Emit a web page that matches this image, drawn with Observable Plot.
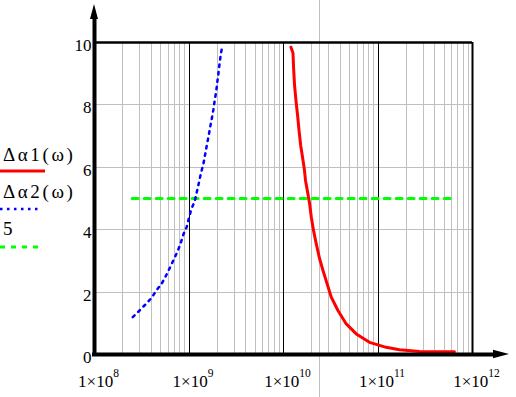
<!DOCTYPE html>
<html><head><meta charset="utf-8">
<script src="https://cdn.jsdelivr.net/npm/d3@7"></script>
<script src="https://cdn.jsdelivr.net/npm/@observablehq/plot@0.6"></script>
<style>
html,body{margin:0;padding:0;background:#fff;}
#wrap{position:relative;width:516px;height:397px;overflow:hidden;}
#wrap svg{position:absolute;left:0;top:0;}
</style></head><body><div id="wrap"></div>
<script>
// Δα2(ω) — blue dotted
const blueX = [2.54e8, 2.87e8, 3.19e8, 3.57e8, 4.07e8, 4.56e8, 5.14e8, 5.63e8, 6.05e8, 6.51e8, 6.96e8, 7.60e8, 8.17e8, 8.73e8, 9.46e8, 1.00e9, 1.06e9, 1.15e9, 1.22e9, 1.28e9, 1.34e9, 1.42e9, 1.48e9, 1.54e9, 1.61e9, 1.67e9, 1.74e9, 1.81e9, 1.87e9, 1.94e9, 1.99e9, 2.05e9, 2.10e9, 2.16e9, 2.24e9];
const blueY = [1.20, 1.35, 1.50, 1.64, 1.84, 2.07, 2.27, 2.49, 2.68, 2.88, 3.07, 3.32, 3.57, 3.85, 4.09, 4.38, 4.67, 4.91, 5.26, 5.54, 5.82, 6.11, 6.40, 6.69, 6.99, 7.27, 7.55, 7.84, 8.14, 8.43, 8.72, 9.01, 9.29, 9.58, 9.86];
// Δα1(ω) — red solid
const redX = [1.20e10, 1.26e10, 1.28e10, 1.31e10, 1.36e10, 1.41e10, 1.46e10, 1.52e10, 1.59e10, 1.66e10, 1.71e10, 1.80e10, 1.89e10, 1.97e10, 2.08e10, 2.22e10, 2.41e10, 2.62e10, 2.89e10, 3.20e10, 3.77e10, 4.61e10, 5.89e10, 8.13e10, 1.22e11, 1.69e11, 2.75e11, 6.44e11];
const redY = [9.85, 9.66, 9.16, 8.62, 8.09, 7.66, 7.18, 6.70, 6.32, 5.95, 5.58, 5.20, 4.83, 4.40, 3.97, 3.55, 3.07, 2.69, 2.27, 1.84, 1.41, 0.98, 0.66, 0.39, 0.23, 0.15, 0.10, 0.09];
// constant 5 — green dashed
const refX = [2.5e8, 6.4e11];
const refLevel = 5;
// axes / grid
const xTickExponents = [8, 9, 10, 11, 12];
const yTicks = [0, 2, 4, 6, 8, 10];
const yGrid = [2, 4, 6, 8];
const decades = [1e8, 1e9, 1e10, 1e11];
const majorDecades = [1e9, 1e10, 1e11];
const minorMultipliers = [2, 3, 4, 5, 6, 7, 8, 9];
const cursorX = 2.41e10;
const legendLabels = ["Δα1(ω)", "Δα2(ω)", "5"];

const minor = decades.flatMap(d => minorMultipliers.map(m => m * d));
const toRows = (xs, ys) => xs.map((x, i) => ({x, y: ys[i]}));
const FONT = "Liberation Serif";
const grid = {stroke: "#c0c0c0", strokeWidth: 1, shapeRendering: "crispEdges"};

const chart = Plot.plot({
  width: 516, height: 397,
  marginLeft: 94, marginRight: 44, marginTop: 42, marginBottom: 43,
  style: {fontFamily: FONT, fontSize: "17px", color: "#000", background: "transparent", overflow: "visible"},
  x: {type: "log", domain: [1e8, 1e12], axis: null},
  y: {domain: [0, 10], axis: null},
  marks: [
    Plot.ruleX(minor, grid),
    Plot.ruleY(yGrid, grid),
    Plot.ruleX([cursorX], {...grid, insetTop: -42, insetBottom: -43}),
    Plot.ruleX(majorDecades, {stroke: "#000", strokeWidth: 1, shapeRendering: "crispEdges"}),
    Plot.line(toRows(refX, refX.map(() => refLevel)), {x: "x", y: "y", stroke: "#00ff00", strokeWidth: 3, strokeDasharray: "6,6"}),
    Plot.line(toRows(blueX, blueY), {x: "x", y: "y", stroke: "#0000ff", strokeWidth: 2.5, strokeDasharray: "2.5,5"}),
    Plot.line(toRows(redX, redY), {x: "x", y: "y", stroke: "#ff0000", strokeWidth: 3}),
    Plot.ruleY([10], {stroke: "#000", strokeWidth: 2.5}),
    Plot.ruleX([1e12], {stroke: "#000", strokeWidth: 2}),
    Plot.ruleY([0], {stroke: "#000", strokeWidth: 4, insetRight: -22, insetLeft: -2}),
    Plot.ruleX([1e8], {stroke: "#000", strokeWidth: 4, insetTop: -24}),
    Plot.text(yTicks, {x: 1e8, y: d => d, text: d => String(d), textAnchor: "end", dx: -3, dy: 3, fontSize: 17, fill: "#000", fontFamily: FONT})
  ]
});

const svg = d3.select(chart);
const sx = chart.scale("x"), sy = chart.scale("y");
const x0 = sx.apply(1e8), x1 = sx.apply(1e12), y0 = sy.apply(0), y1 = sy.apply(10);
const g = svg.append("g").attr("font-family", FONT).attr("fill", "#000");
xTickExponents.forEach(e => {
  const t = g.append("text")
    .attr("x", sx.apply(Math.pow(10, e)) + 4.5)
    .attr("y", y0 + 32.5)
    .attr("text-anchor", "middle")
    .attr("font-size", 17);
  t.append("tspan").text("1×10");
  t.append("tspan").attr("dy", -9.5).attr("font-size", 11.5).text(String(e));
});
// arrowheads
g.append("path").attr("fill", "#000")
  .attr("d", `M${x0},${y1 - 38}L${x0 - 4},${y1 - 23}L${x0 + 4},${y1 - 23}Z`);
g.append("path").attr("fill", "#000")
  .attr("d", `M${x1 + 37},${y0}L${x1 + 21},${y0 - 4.2}L${x1 + 21},${y0 + 4.2}Z`);

document.getElementById("wrap").appendChild(chart);

// legend (left margin)
const leg = d3.select("#wrap").append("svg")
  .attr("width", 90).attr("height", 397)
  .style("pointer-events", "none");
const legendStyles = [
  {stroke: "#ff0000", width: 3, dash: null, len: 45, ty: 161, ly: 171},
  {stroke: "#0000ff", width: 2.5, dash: "2.5,4.5", len: 38, ty: 198, ly: 209},
  {stroke: "#00ff00", width: 3, dash: "5,6", len: 40, ty: 235, ly: 247}
];
legendLabels.forEach((lab, i) => {
  const s = legendStyles[i];
  leg.append("text").attr("x", 3).attr("y", s.ty)
    .attr("font-family", FONT).attr("font-size", 19)
    .attr("letter-spacing", lab.length > 1 ? 2.6 : 0)
    .attr("fill", "#000").text(lab);
  leg.append("line").attr("x1", 0).attr("x2", s.len).attr("y1", s.ly).attr("y2", s.ly)
    .attr("stroke", s.stroke).attr("stroke-width", s.width)
    .attr("stroke-dasharray", s.dash);
});
</script>
</body></html>
